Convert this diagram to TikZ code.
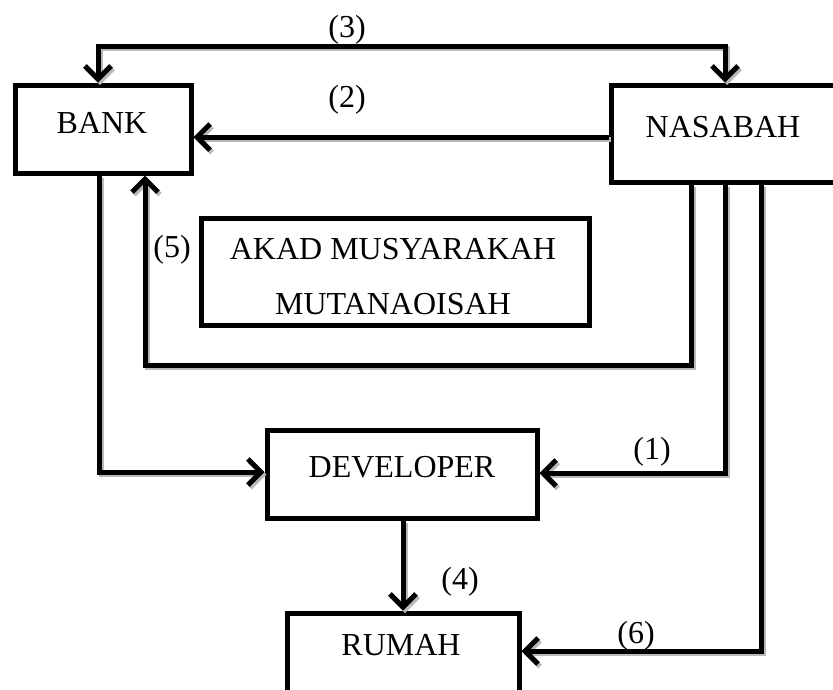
\documentclass[tikz,border=0pt]{standalone}
\usepackage{fontspec}
\setmainfont{Liberation Serif}
\usetikzlibrary{arrows.meta}
\newcommand\drawconns[1]{%
\draw[#1,tips] (bank.north -| c3a) -- (c3a) -- (c3b) -- (nasabah.north -| c3b);
\draw[#1,tip] (nasabah.west |- c2) -- (bank.east |- c2);
\draw[#1,tip] (bank.south -| cbd) -- (cbd) -- (dev.west |- cbd);
\draw[#1,tip] (nasabah.south -| c5a) -- (c5a) -- (c5b) -- (bank.south -| c5b);
\draw[#1,tip] (nasabah.south -| c1) -- (c1) -- (dev.east |- c1);
\draw[#1,tip] (nasabah.south -| c6) -- (c6) -- (rumah.east |- c6);
\draw[#1,tip] (dev.south -| c4) -- (rumah.north -| c4);}
\begin{document}
\begin{tikzpicture}[x=1pt,y=-1pt,
  box/.style={draw,line width=5pt,inner sep=0pt,minimum width=#1},
  txt/.style={anchor=base,inner sep=0pt,font=\fontsize{32}{38}\selectfont},
  conn/.style={line width=5pt},
  shadowconn/.style={line width=5pt,draw=gray!55},
  tip/.style={arrows={-{Straight Barb[length=13pt,width=26pt]}}},
  tips/.style={arrows={{Straight Barb[length=13pt,width=26pt]}-{Straight Barb[length=13pt,width=26pt]}}}]
\useasboundingbox (0,0) rectangle (833,689);
\clip (0,0) rectangle (833,689);
% boxes
\node[box=176pt,minimum height=88pt] (bank) at (103,129) {};
\node[box=249pt,minimum height=97pt] (nasabah) at (735.5,133.5) {};
\node[box=388pt,minimum height=107pt] (akad) at (395,271.5) {};
\node[box=270pt,minimum height=88pt] (dev) at (402,474) {};
\node[box=232pt,minimum height=120pt] (rumah) at (403,673) {};
% texts
\node[txt] (tbank) at (102,133) {BANK};
\node[txt] (tnas) at (723,137) {NASABAH};
\node[txt] (takad1) at (393,259) {AKAD MUSYARAKAH};
\node[txt] (takad2) at (393,314) {MUTANAOISAH};
\node[txt] (tdev) at (402,477) {DEVELOPER};
\node[txt] (trum) at (401,655) {RUMAH};
% labels
\node[txt] (l3) at (347,37) {(3)};
\node[txt] (l2) at (347,107) {(2)};
\node[txt] (l5) at (172,257) {(5)};
\node[txt] (l1) at (652,459) {(1)};
\node[txt] (l4) at (460,589) {(4)};
\node[txt] (l6) at (636,643) {(6)};
% bend points
\coordinate (c3a) at (98,46);
\coordinate (c3b) at (725,46);
\coordinate (c2) at (0,137);
\coordinate (cbd) at (99,472);
\coordinate (c5a) at (691,365);
\coordinate (c5b) at (145,365);
\coordinate (c1) at (725,473);
\coordinate (c6) at (761,651);
\coordinate (c4) at (403,0);
% connectors: shadow, then line
\begin{scope}[transform canvas={shift={(2pt,-2.5pt)}}]
\drawconns{shadowconn}
\end{scope}
\drawconns{conn}
\end{tikzpicture}
\end{document}
